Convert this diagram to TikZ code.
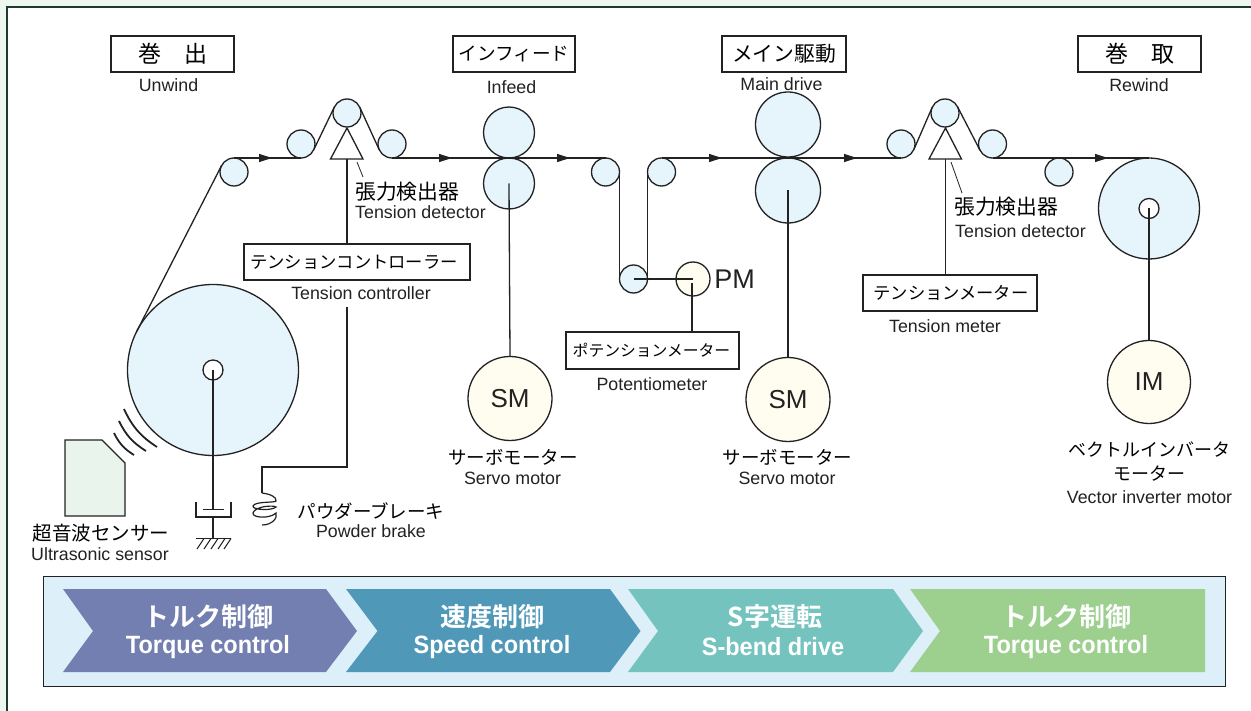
\documentclass[tikz,border=0pt]{standalone}
\usepackage{fontspec}
\setmainfont{Liberation Sans}
\newfontfamily\jpf{Noto Sans CJK JP}
\newfontfamily\jpb{Noto Sans CJK JP}[BoldFont={Noto Sans CJK JP Bold}]
\newfontfamily\nrw{Liberation Sans}[FakeStretch=0.94]
\usetikzlibrary{arrows.meta}
\definecolor{ink}{HTML}{222222}
\definecolor{rollerfill}{HTML}{E6F4FC}
\definecolor{motorfill}{HTML}{FFFDF0}
\definecolor{sensorfill}{HTML}{E9F4EC}
\definecolor{outerbg}{HTML}{EEF6F0}
\definecolor{framecol}{HTML}{1E3A30}
\definecolor{bandbg}{HTML}{DDF0FA}
\definecolor{chevA}{HTML}{727FB0}
\definecolor{chevB}{HTML}{4F98B8}
\definecolor{chevC}{HTML}{74C3BE}
\definecolor{chevD}{HTML}{9DCF8F}
\tikzset{
  ln/.style={draw=ink,line width=1.3pt},
  thin ln/.style={draw=ink,line width=0.8pt},
  roller/.style={circle,ln,fill=rollerfill,inner sep=0pt,outer sep=0pt,minimum size=#1},
  motor/.style={circle,ln,fill=motorfill,inner sep=0pt,outer sep=0pt,minimum size=#1,text=ink,font=\fontsize{26}{28}\selectfont},
  core/.style={circle,ln,fill=white,inner sep=0pt,outer sep=0pt,minimum size=20pt},
  labelbox/.style={rectangle,ln,fill=white,inner sep=0pt,outer sep=0pt,text=black},
  jp/.style={inner sep=0pt,text=black,font=\jpf\fontsize{#1}{#1}\selectfont},
  en/.style={inner sep=0pt,text=ink,font=\fontsize{17.8}{19}\selectfont},
  web/.style={ln},
  tip/.style={-{Triangle[length=13pt,width=8pt]}},
  bandjp/.style={inner sep=0pt,text=white,font=\jpb\bfseries\fontsize{26}{28}\selectfont},
  banden/.style={inner sep=0pt,text=white,font=\nrw\bfseries\fontsize{25}{28}\selectfont},
}
\begin{document}
\begin{tikzpicture}[x=1pt,y=-1pt]
\useasboundingbox (0,0) rectangle (1251,711);
\fill[outerbg] (0,0) rectangle (1251,711);
\fill[white] (7,7) rectangle (1251,711);
\draw[framecol,line width=2pt] (7,711) -- (7,7) -- (1251,7);

% arrow tip positions
\coordinate (a1) at (272,158);
\coordinate (a2) at (452,158);
\coordinate (a3) at (570,158);
\coordinate (a4) at (722,158);
\coordinate (a5) at (857,158);
\coordinate (a6) at (1108,158);

% rollers
\node[roller=171pt] (unw) at (213,370) {};
\node[core] (unwc) at (213,370) {};
\node[roller=28pt] (r1) at (234,172) {};
\node[roller=28pt] (r2) at (301,144) {};
\node[roller=28pt] (r3) at (347,113) {};
\node[roller=28pt] (r4) at (392,144) {};
\node[roller=51pt] (if1) at (509,132.5) {};
\node[roller=51pt] (if2) at (509,183.5) {};
\node[roller=28pt] (r5) at (605.5,172) {};
\node[roller=28pt] (r6) at (661.5,172) {};
\node[roller=28pt] (r7) at (633.5,279) {};
\node[motor=34pt] (pm) at (693,279) {};
\node[roller=65pt] (md1) at (788,124.5) {};
\node[roller=65pt] (md2) at (788,190.5) {};
\node[roller=28pt] (r8) at (901,144) {};
\node[roller=28pt] (r9) at (945,113) {};
\node[roller=28pt] (r10) at (992.5,144) {};
\node[roller=28pt] (r11) at (1059,172) {};
\node[roller=101pt] (rw) at (1149,208.5) {};
\node[core] (rwc) at (1149,208.5) {};

% motors
\node[motor=84pt] (sm1) at (510,398.5) {SM};
\node[motor=84pt] (sm2) at (788,399.5) {SM};
\node[motor=83pt] (im) at (1149,382) {IM};
\node[inner sep=0pt,text=ink,font=\fontsize{27}{29}\selectfont] (pmt) at (734.5,279) {PM};

% web
\draw[web] (unw.153) -- (r1.153);
\draw[web] (r1.north) -- (r2.south);
\draw[web,tip] (r1.north) -- (a1);
\draw[web] (r2.-25.7) -- (r3.154.3);
\draw[web] (r3.24.6) -- (r4.204.6);
\draw[web] (r4.south) -- (if2.north);
\draw[web,tip] (r4.south) -- (a2);
\draw[web] (if2.north) -- (r5.north);
\draw[web,tip] (if2.north) -- (a3);
\draw[web] (r5.east) -- (r7.west);
\draw[web] (r7.east) -- (r6.west);
\draw[web] (r6.north) -- (md2.north);
\draw[web,tip] (r6.north) -- (a4);
\draw[web] (md2.north) -- (r8.south);
\draw[web,tip] (md2.north) -- (a5);
\draw[web] (r8.-23.4) -- (r9.156.6);
\draw[web] (r9.27.3) -- (r10.207.3);
\draw[web] (r10.south) -- (rw.north);
\draw[web,tip] (r10.south) -- (a6);

% dancer triangles
\coordinate (t1) at (347,159);
\coordinate (t2) at (945.5,159);
\draw[ln,fill=white,line join=miter] (347,128) -- (330.5,159) -- (363,159) -- cycle;
\draw[ln,fill=white,line join=miter] (945.5,128) -- (929,159) -- (961.5,159) -- cycle;

% boxes
\node[labelbox,minimum width=123pt,minimum height=36pt] (bx1) at (172.5,54) {\jpf\fontsize{23}{25}\selectfont 巻　出};
\node[labelbox,minimum width=122pt,minimum height=36pt] (bx2) at (514,54) {\jpf\fontsize{18.6}{22}\selectfont インフィード};
\node[labelbox,minimum width=124pt,minimum height=36pt] (bx3) at (784,54) {\jpf\fontsize{20.8}{22}\selectfont メイン駆動};
\node[labelbox,minimum width=123pt,minimum height=36pt] (bx4) at (1139.5,54) {\jpf\fontsize{23}{25}\selectfont 巻　取};
\node[labelbox,minimum width=226pt,minimum height=36pt] (bx5) at (357,262) {\hspace*{-6pt}\jpf\fontsize{17.3}{20}\selectfont テンションコントローラー};
\node[labelbox,minimum width=173pt,minimum height=37pt] (bx6) at (652.5,350.5) {\hspace*{-2pt}\jpf\fontsize{15.8}{20}\selectfont ポテンションメーター};
\node[labelbox,minimum width=174pt,minimum height=36pt] (bx7) at (950,293) {\hspace*{2pt}\jpf\fontsize{17.3}{20}\selectfont テンションメーター};

% signal lines
\coordinate (c1) at (347,467);
\coordinate (c2) at (262,467);
\coordinate (c3) at (262,493);
\coordinate (c4) at (347,244);
\coordinate (c5) at (347,307);
\coordinate (c6) at (945.5,275);
\coordinate (c7) at (692,332);
\draw[ln] (t1) -- (c4);
\draw[ln,line join=miter] (c5) -- (c1) -- (c2) -- (c3);
\draw[ln] (t2) -- (c6);
\draw[ln] (if2.center) -- (sm1.north);
\draw[ln] (md2.center) -- (sm2.north);
\draw[ln] (rwc.center) -- (im.north);
\draw[ln] (r7.center) -- (pm.center);
\draw[ln] (692,283) -- (c7);

% leader lines
\draw[thin ln] (357,162) -- (363,177);
\draw[thin ln] (951,162) -- (962,193);

% brake coil
\draw[ln,line width=1.2pt] (c3) .. controls (270,494) and (277,497) .. (276,501)
  .. controls (275,503) and (255,501) .. (253,506)
  .. controls (252,510) and (272,511) .. (276,507)
  .. controls (274,505) and (255,506) .. (253,513)
  .. controls (252,518) and (270,519) .. (276,513)
  .. controls (278,518) and (272,525) .. (262,525);

% unwind shaft, damper, ground
\coordinate (p0) at (213,509.5);
\coordinate (p1) at (213,517);
\coordinate (p2) at (213,538.5);
\draw[ln] (unwc.center) -- (p0);
\draw[ln] (202.5,509.5) -- (224,509.5);
\draw[ln,line join=miter] (196,502) -- (196,517) -- (231,517) -- (231,502);
\draw[ln] (p1) -- (p2);
\draw[ln] (196,538.5) -- (231,538.5);
\foreach \x in {204,211,218,225,231}{\draw[ln,line width=1.1pt] (\x,538.5) -- (\x-7,549);}

% sensor
\draw[ln,fill=sensorfill,line join=miter] (65,440) -- (102,440) -- (125,463) -- (125,516) -- (65,516) -- cycle;
\draw[ink,line width=1.8pt] (124,409) to[bend right=16] (157,447);
\draw[ink,line width=1.8pt] (119,421) to[bend right=16] (146,451);
\draw[ink,line width=1.8pt] (114,433) to[bend right=16] (134,455);

% labels
\node[en] (l1) at (168.5,85) {Unwind};
\node[en] (l2) at (511.5,87) {Infeed};
\node[en] (l3) at (781.5,84) {Main drive};
\node[en] (l4) at (1139,85) {Rewind};
\node[jp=20.8,anchor=west] (l5) at (355,192) {張力検出器};
\node[en,anchor=west] (l6) at (355,212) {Tension detector};
\node[jp=20.8,anchor=west] (l7) at (954,207) {張力検出器};
\node[en,anchor=west] (l8) at (955,231) {Tension detector};
\node[en] (l9) at (361,293) {Tension controller};
\node[en] (l10) at (945,326) {Tension meter};
\node[en] (l11) at (652,384) {Potentiometer};
\node[jp=18.5] (l12) at (513,457) {サーボモーター};
\node[en] (l13) at (512.5,478) {Servo motor};
\node[jp=18.5] (l14) at (787.5,457) {サーボモーター};
\node[en] (l15) at (787,478) {Servo motor};
\node[jp=18] (l16) at (1149.5,450) {ベクトルインバータ};
\node[jp=18] (l17) at (1149,474) {モーター};
\node[en] (l18) at (1149.5,497) {Vector inverter motor};
\node[jp=19.5] (l19) at (101,533) {超音波センサー};
\node[en] (l20) at (100,554) {Ultrasonic sensor};
\node[jp=18.5] (l21) at (371,511) {パウダーブレーキ};
\node[en] (l22) at (371,531) {Powder brake};

% control band
\draw[draw=ink,line width=1pt,fill=bandbg] (43,576) rectangle (1225,686);
\fill[chevA] (63,589) -- (326,589) -- (357,631) -- (326,672) -- (63,672) -- (93,631) -- cycle;
\fill[chevB] (346,589) -- (610,589) -- (640.5,631) -- (610,672) -- (346,672) -- (377.5,631) -- cycle;
\fill[chevC] (628,589) -- (893,589) -- (923,631) -- (893,672) -- (628,672) -- (658,631) -- cycle;
\fill[chevD] (910,589) -- (1205,589) -- (1205,672) -- (910,672) -- (940,631) -- cycle;
\node[bandjp] (b1) at (208,616.5) {トルク制御};
\node[banden] (b2) at (208,647) {Torque control};
\node[bandjp] (b3) at (492,616.5) {速度制御};
\node[banden] (b4) at (492,647) {Speed control};
\node[bandjp] (b5) at (775,616.5) {S字運転};
\node[banden] (b6) at (773,647) {S-bend drive};
\node[bandjp] (b7) at (1066,616.5) {トルク制御};
\node[banden] (b8) at (1066,647) {Torque control};
\end{tikzpicture}
\end{document}
